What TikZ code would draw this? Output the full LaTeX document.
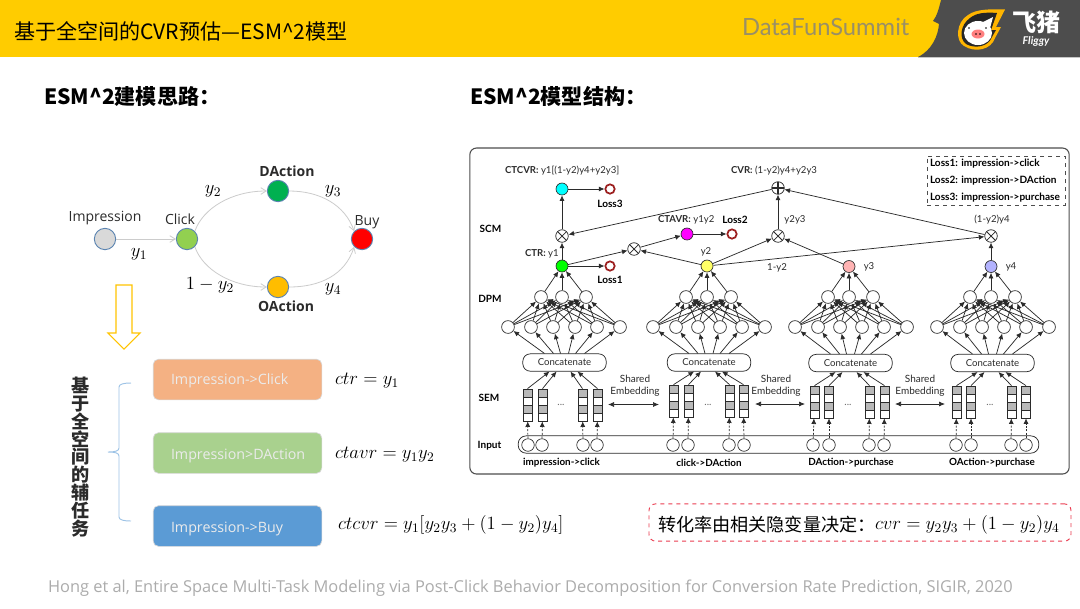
\documentclass[tikz,border=0pt]{standalone}
\usepackage{fix-cm}
\usepackage{fontspec}
\setmainfont{Open Sans}
\newfontfamily\cjk{Noto Sans CJK SC}
\newfontfamily\twr{Lato}
\usetikzlibrary{arrows.meta,calc,shapes.arrows}
\definecolor{hdr}{HTML}{FFCC00}
\definecolor{dk}{HTML}{4D4D4D}
\definecolor{ink}{HTML}{2B2B2B}
\definecolor{nodeb}{HTML}{5B84B1}
\definecolor{lossred}{HTML}{9C1F1F}
\definecolor{purecyan}{HTML}{00FFFF}
\definecolor{puremag}{HTML}{FF00FF}
\definecolor{puregreen}{HTML}{00FF00}
\definecolor{softyel}{HTML}{FFFF66}
\definecolor{softpink}{HTML}{FFB3B3}
\definecolor{softblue}{HTML}{B3B3FF}
\newcommand{\fs}[1]{\fontsize{#1}{#1}\selectfont}
\tikzset{
  x=0.75pt,y=-0.75pt,
  lbl/.style={inner sep=0pt,outer sep=0pt,align=center},
  twlbl/.style={lbl,text=ink,font=\twr\fs{7.2}},
  twb/.style={lbl,text=black,font=\twr\bfseries\fs{7.55}},
  ah/.style={-{Latex[length=4.2pt,width=3.8pt]},draw=ink,line width=0.55pt},
  da/.style={-{Latex[length=4.2pt,width=3.8pt]},draw=ink,line width=0.55pt,dash pattern=on 1.5pt off 1.2pt},
  both/.style={{Latex[length=4.5pt,width=3.8pt]}-{Latex[length=4.5pt,width=3.8pt]},draw=ink,line width=0.55pt},
  nn/.style={circle,draw=ink,line width=0.5pt,fill=white,minimum size=9.6pt,inner sep=0pt},
  outn/.style={circle,draw=ink,line width=0.5pt,minimum size=9pt,inner sep=0pt},
  lossn/.style={circle,draw=lossred,line width=1.3pt,fill=white,minimum size=7pt,inner sep=0pt},
  inn/.style={circle,draw=ink,line width=0.5pt,fill=white,minimum size=9.4pt,inner sep=0pt},
  opx/.style={circle,draw=ink,line width=0.55pt,fill=white,minimum size=9.4pt,inner sep=0pt,path picture={
     \draw[line width=0.55pt] (path picture bounding box.north west)--(path picture bounding box.south east)
       (path picture bounding box.north east)--(path picture bounding box.south west);}},
  opp/.style={circle,draw=ink,line width=0.55pt,fill=white,minimum size=9.4pt,inner sep=0pt,path picture={
     \draw[line width=0.8pt] (path picture bounding box.north)--(path picture bounding box.south)
       (path picture bounding box.east)--(path picture bounding box.west);}},
  stk/.style={rectangle,draw=ink,line width=0.55pt,fill=white,minimum width=6.6pt,minimum height=24pt,inner sep=0pt,path picture={
     \def\bb{path picture bounding box}
     \fill[gray!55] (\bb.north west) rectangle ($(\bb.north east)!0.25!(\bb.south east)$);
     \fill[gray!55] ($(\bb.north west)!0.5!(\bb.south west)$) rectangle ($(\bb.north east)!0.75!(\bb.south east)$);
     \foreach \f in {0.25,0.5,0.75}{\draw[line width=0.5pt,draw=ink] ($(\bb.north west)!\f!(\bb.south west)$)--($(\bb.north east)!\f!(\bb.south east)$);}
  }},
  conc/.style={rectangle,rounded corners=5.5pt,draw=ink,line width=0.55pt,fill=white,minimum width=62.5pt,minimum height=13pt,inner sep=0pt,font=\twr\fs{7.2},text=ink},
  flow/.style={-{Straight Barb[length=4pt,width=5pt]},draw=gray!40,line width=0.6pt},
  st/.style={circle,draw=nodeb,line width=0.7pt,minimum size=16pt,inner sep=0pt},
  lft/.style={lbl,font=\fs{10.5},text=ink},
  lftb/.style={lbl,font=\bfseries\fs{10.5},text=ink},
  eq/.style={lbl,font=\fs{14},text=black},
  task/.style={rectangle,rounded corners=4pt,minimum width=126.5pt,minimum height=30.5pt,inner sep=0pt,line width=0.5pt,draw=white!70!gray},
  tasktxt/.style={lbl,anchor=west,text=white!92!black,font=\fs{10.7}},
  head/.style={lbl,anchor=west,font=\cjk\bfseries\fs{15.8},text=black},
}
\begin{document}
\begin{tikzpicture}
\useasboundingbox (0,0) rectangle (1080,608);
\fill[white] (0,0) rectangle (1080,608);
% header
\fill[hdr] (0,0) rectangle (945,57);
\fill[dk] (941,0) -- (1080,0) -- (1080,57) -- (918,57) .. controls (932,50) and (938,36) .. (939,24) .. controls (937,23) and (935,22) .. (933,21) .. controls (937,16) and (939,8) .. (941,0) -- cycle;
\fill[gray!45] (918,57) rectangle (1080,58);
\node[lbl,anchor=west,font=\cjk\fs{15.8}] (title) at (14,31) {基于全空间的CVR预估—ESM\textasciicircum 2模型};
\node[lbl,anchor=west,font=\twr\fs{17.8},text=gray!80!hdr] (dfs) at (742,27) {DataFunSummit};
% logo
\fill[hdr!70!orange] (1005,9.5) .. controls (990,9) and (976,9) .. (968,15) .. controls (956,22) and (955,41) .. (964,46) .. controls (975,53) and (991,50) .. (995,38) -- (1001,27) -- (996,27) -- cycle;
\fill[black!85] (997,13) .. controls (985,12) and (976,13) .. (970,18) .. controls (960,25) and (959,39) .. (966,44) .. controls (975,49) and (988,47) .. (992,37) -- (996,30) -- (991,30) -- cycle;
\fill[white] (978,33) ellipse [x radius=14, y radius=12];
\fill[white] (983,22) -- (993,17) -- (989,32) -- cycle;
\fill[red!50!white] (978,34) ellipse [x radius=6.5, y radius=4.5];
\fill[black] (976,34) circle (0.8) (980,34) circle (0.8) (969,28) circle (0.9) (986,28) circle (0.9);
\node[lbl,font=\cjk\bfseries\fs{18},text=white] (logoa) at (1036,22.5) {飞猪};
\node[lbl,font=\twr\bfseries\itshape\fs{8},text=white] (logob) at (1036,41) {Fliggy};
% headings
\node[head] (h1) at (44,96.5) {ESM\textasciicircum 2建模思路：};
\node[head] (h2) at (470,96.5) {ESM\textasciicircum 2模型结构：};
% left state diagram
\node[st,fill=gray!30] (imp) at (105,239) {};
\node[st,fill={rgb,255:red,146;green,208;blue,80}] (clk) at (187,239) {};
\node[st,fill={rgb,255:red,0;green,176;blue,80}] (dac) at (278,191) {};
\node[st,fill=hdr!80!orange] (oac) at (278,287) {};
\node[st,fill=red] (buy) at (362,239) {};
\draw[flow] (imp) -- (clk);
\draw[flow] (clk.north east) .. controls (203,208) and (232,191) .. (dac.west);
\draw[flow] (clk.south east) .. controls (203,270) and (232,287) .. (oac.west);
\draw[flow] (dac.east) .. controls (320,191) and (345,205) .. (buy.north west);
\draw[flow] (oac.east) .. controls (320,287) and (345,275) .. (buy.south west);
\node[lft] (li) at (105,218.5) {Impression};
\node[lft] (lc) at (180,219.5) {Click};
\node[lftb] (ld) at (287,171) {DAction};
\node[lftb] (lo) at (286,306) {OAction};
\node[lft] (lb) at (367,222) {Buy};
\node[eq] (y1) at (139,254) {$y_1$};
\node[eq] (y2) at (213,191) {$y_2$};
\node[eq] (y3) at (333,191) {$y_3$};
\node[eq] (y4) at (333,289) {$y_4$};
\node[eq] (y5) at (210,285) {$1-y_2$};
% big down arrow
\draw[draw=hdr!90!orange,line width=0.8pt,fill=white] (116,285) -- (132,285) -- (132,333) -- (140,333) -- (124,349) -- (108,333) -- (116,333) -- cycle;
% vertical text
\node[lbl,font=\cjk\bfseries\fs{13.6},text=ink,align=center] (vt) at (81,457) {基\\[-0.2pt]于\\[-0.2pt]全\\[-0.2pt]空\\[-0.2pt]间\\[-0.2pt]的\\[-0.2pt]辅\\[-0.2pt]任\\[-0.2pt]务};
% brace
\draw[line width=0.7pt,draw={rgb,255:red,157;green,195;blue,230}] (131,383) .. controls (124,383) and (119,384) .. (119,387) -- (119,448) .. controls (119,451) and (115,452) .. (108,452) .. controls (115,452) and (119,453) .. (119,456) -- (119,517) .. controls (119,520) and (124,521) .. (131,521);
% tasks
\node[task,fill={rgb,255:red,244;green,177;blue,131}] (t1) at (237.5,379.5) {};
\node[task,fill={rgb,255:red,169;green,209;blue,142}] (t2) at (237.5,453) {};
\node[task,fill={rgb,255:red,91;green,155;blue,213}] (t3) at (237.5,526) {};
\node[tasktxt] (tt1) at (171,380.5) {Impression->Click};
\node[tasktxt] (tt2) at (171,455.5) {Impression>DAction};
\node[tasktxt] (tt3) at (171,528.5) {Impression->Buy};
\node[eq,anchor=west] (e1) at (335,381) {$ctr = y_1$};
\node[eq,anchor=west] (e2) at (335,455) {$ctavr = y_1y_2$};
\node[eq,anchor=west] (e3) at (338,525) {$ctcvr = y_1[y_2y_3+(1-y_2)y_4]$};
% red dashed
\node[rectangle,rounded corners=5pt,draw={rgb,255:red,235;green,60;blue,80},dashed,line width=0.7pt,minimum width=316.5pt,minimum height=28pt,inner sep=0pt] (rb) at (860,522.5) {};
\node[lbl,anchor=west,font=\cjk\fs{13.6},text=black] (rt) at (658,525) {转化率由相关隐变量决定：};
\node[eq,anchor=west] (re) at (875,525) {$cvr = y_2y_3+(1-y_2)y_4$};
% footer
\node[lbl,anchor=west,font=\fs{12.3},text=gray!65] (ft) at (48,588.5) {Hong et al, Entire Space Multi-Task Modeling via Post-Click Behavior Decomposition for Conversion Rate Prediction, SIGIR, 2020};
% model frame
\node[rectangle,rounded corners=5pt,draw=dk,line width=0.8pt,minimum width=449.5pt,minimum height=244.5pt,inner sep=0pt] (frame) at (769.5,311) {};
\node[rectangle,draw=dk,dashed,line width=0.55pt,minimum width=103.5pt,minimum height=36.8pt,inner sep=0pt] (leg) at (996,180.5) {};
\node[twb,anchor=west] (l1) at (930,164) {Loss1: impression->click};
\node[twb,anchor=west] (l2) at (930,181) {Loss2: impression->DAction};
\node[twb,anchor=west] (l3) at (930,198) {Loss3: impression->purchase};
% row labels
\node[twb,font=\twr\bfseries\fs{7.5}] (r1) at (490.5,228.5) {SCM};
\node[twb,font=\twr\bfseries\fs{7.5}] (r2) at (490,298.5) {DPM};
\node[twb,font=\twr\bfseries\fs{7.5}] (r3) at (489,397.5) {SEM};
\node[twb,font=\twr\bfseries\fs{7.5}] (r4) at (489.5,445.5) {Input};
% input bar
\node[rectangle,rounded corners=6pt,draw=ink,line width=0.55pt,minimum width=390.5pt,minimum height=13pt,inner sep=0pt] (bar) at (778.5,444.5) {};
% towers
\foreach \n/\ox/\cx/\sy/\sa/\sb/\sc/\sd/\ia/\ib/\ic/\id/\oc/\dy/\nm/\lx/\dotx in {
  a/562/564.5/405/527.5/542.5/582.5/597.5/528/542/583/597/puregreen/0/impression->click/561.5/561,
  b/707/709/401/673.5/688.5/729.5/743.5/673/688/729/744/softyel/0/click->DAction/709/708,
  c/849/850.5/402/814.5/829/869.5/884.5/813/829/869/884/softpink/1/DAction->purchase/851/848,
  d/991/992.5/402/956.5/971/1011.5/1026/956/971/1011/1026/softblue/1/OAction->purchase/992/990}{
  \node[outn,fill=\oc] (out\n) at (\ox,266+0.5*\dy) {};
  % second layer
  \node[nn] (h\n1) at (\ox-21,297) {};
  \node[nn] (h\n2) at (\ox,297) {};
  \node[nn] (h\n3) at (\ox+24,297) {};
  % third layer
  \foreach \k/\off in {1/-54,2/-31,3/-9,4/13,5/35,6/58}{\node[nn] (g\n\k) at (\ox+\off,327) {};}
  \node[conc] (cc\n) at (\cx,362.5+0.5*\dy) {Concatenate};
  % stacks + inputs
  \node[stk] (sa\n) at (\sa,\sy) {};
  \node[stk] (sb\n) at (\sb,\sy) {};
  \node[stk] (sc\n) at (\sc,\sy) {};
  \node[stk] (sd\n) at (\sd,\sy) {};
  \node[inn] (ia\n) at (\ia,445) {};
  \node[inn] (ib\n) at (\ib,445) {};
  \node[inn] (ic\n) at (\ic,445) {};
  \node[inn] (id\n) at (\id,445) {};
  \foreach \q in {a,b,c,d}{\draw[da] (i\q\n) -- (s\q\n);}
  \draw[ah] (sa\n.north) -- ($(cc\n.south)+(-15,0)$);
  \draw[ah] (sb\n.north) -- ($(cc\n.south)+(-8,0)$);
  \draw[ah] (sc\n.north) -- ($(cc\n.south)+(6,0)$);
  \draw[ah] (sd\n.north) -- ($(cc\n.south)+(13,0)$);
  \foreach \k/\off in {1/-20,2/-11,3/-4,4/4,5/11,6/20}{\draw[ah] ($(cc\n.north)+(\off,0)$) -- (g\n\k);}
  \foreach \k in {1,...,6}{\foreach \m in {1,2,3}{\draw[ah] (g\n\k) -- (h\n\m);}}
  \foreach \m in {1,2,3}{\draw[ah] (h\n\m) -- (out\n);}
  \node[lbl,text=ink!70,font=\twr\fs{7.5}] (dots\n) at (\dotx,404.5) {...};
  \node[twb,font=\twr\bfseries\fs{7.4}] (nm\n) at (\lx,463) {\nm};
}
\foreach \g/\x in {u/635,v/776,w/920}{
  \node[twlbl,font=\twr\fs{7.5}] (sh\g) at (\x,386) {Shared\\[1.3pt]Embedding};
}
\coordinate (p1a) at (608,404.5); \coordinate (p1b) at (659,404.5);
\coordinate (p2a) at (755,404); \coordinate (p2b) at (805,404);
\coordinate (p3a) at (895,404); \coordinate (p3b) at (945,404);
\draw[both] (p1a) -- (p1b);
\draw[both] (p2a) -- (p2b);
\draw[both] (p3a) -- (p3b);
% SCM
\node[opx] (x1) at (562,236) {};
\node[opx] (x2) at (634,249) {};
\node[opx] (x3) at (778,236) {};
\node[opx] (x4) at (991,236) {};
\node[opp] (pl) at (778,188) {};
\node[outn,fill=purecyan] (cy) at (562,189) {};
\node[outn,fill=puremag] (mg) at (687,234) {};
\node[lossn] (ls1) at (610,266) {};
\node[lossn] (ls2) at (732,234) {};
\node[lossn] (ls3) at (610,189) {};
\draw[ah] (outa) -- (x1);
\draw[ah] (x1) -- (cy);
\draw[ah] (cy) -- (ls3);
\draw[ah] (outa) -- (ls1);
\draw[ah] (outa) -- (x2);
\draw[ah] (outb) -- (x2);
\draw[ah] (x2) -- (mg);
\draw[ah] (mg) -- (ls2);
\draw[ah] (outb) -- (x3);
\draw[ah] (outc) -- (x3);
\draw[ah] (outb) -- (x4);
\draw[ah] (outd) -- (x4);
\draw[ah] (x3) -- (pl);
\draw[ah] (x4) -- (pl);
\draw[ah] (pl) -- (x1);
% SCM labels
\node[twlbl,anchor=west] (tc1) at (505,171) {\textbf{CTCVR:} y1[(1-y2)y4+y2y3]};
\node[twlbl,anchor=west] (tc2) at (731,171) {\textbf{CVR:} (1-y2)y4+y2y3};
\node[twlbl,anchor=west] (tc3) at (658,220) {\textbf{CTAVR:} y1y2};
\node[twb] (tl2) at (735,220) {Loss2};
\node[twb] (tl3) at (610,204) {Loss3};
\node[twb] (tl1) at (610,280) {Loss1};
\node[twlbl,anchor=west] (tc4) at (525,254) {\textbf{CTR:} y1};
\node[twlbl] (t5) at (706,252) {y2};
\node[twlbl] (t6) at (777,268) {1-y2};
\node[twlbl] (t7) at (869,267) {y3};
\node[twlbl] (t8) at (1011,267) {y4};
\node[twlbl] (t9) at (795,220) {y2y3};
\node[twlbl] (t10) at (992,220) {(1-y2)y4};
\end{tikzpicture}
\end{document}
